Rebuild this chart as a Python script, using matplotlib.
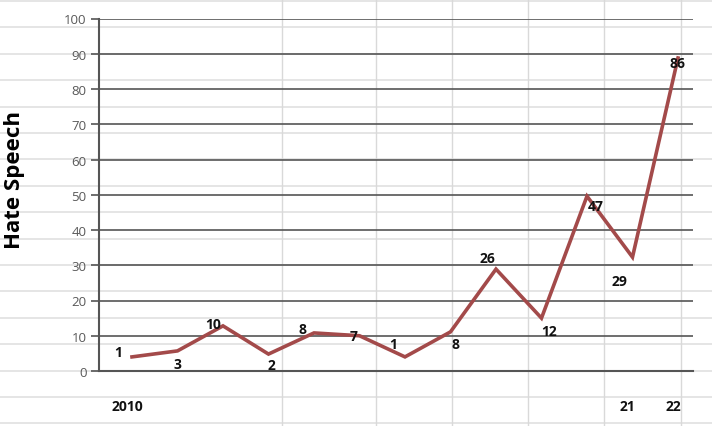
import matplotlib
matplotlib.use("Agg")
import matplotlib.pyplot as plt
from matplotlib.lines import Line2D
import matplotlib.transforms as mtransforms

plt.rcParams['font.family'] = ['Open Sans', 'DejaVu Sans']

# ---- data ----
categories = ["2010", "", "", "", "", "", "", "", "", "", "", "21", "22"]
values = [4.0, 5.7, 12.8, 4.8, 10.8, 10.0, 4.0, 11.1, 28.9, 15.0, 49.6, 32.3, 88.8]
point_labels = ["1", "3", "10", "2", "8", "7", "1", "8", "26", "12", "47", "29", "86"]
y_ticks = [0, 10, 20, 30, 40, 50, 60, 70, 80, 90, 100]
y_title = "Hate Speech"

# label offsets in pixels (dx, dy)
label_offsets = [(-14, 5), (0, -13), (-10, 2), (3, -11), (-11, 4), (-6, 0), (-12, 13),
                 (5, -12), (-9, 11), (8, -13), (9, -10), (-13, -24), (0, -5)]

W, H = 712, 427
fig = plt.figure(figsize=(W / 100, H / 100), dpi=100)
fig.patch.set_facecolor("white")

def fx(px):
    return px / W

def fy(py):
    return 1 - py / H

# spreadsheet background grid
for k in range(17):
    yy = 2 + 26.4 * k
    fig.add_artist(Line2D([0, 1], [fy(yy), fy(yy)], color="#e3e3e3", lw=1.3, zorder=0))
for xx in [282, 376, 452, 528, 604, 681]:
    fig.add_artist(Line2D([fx(xx), fx(xx)], [0, 1], color="#d9d9d9", lw=1.0, zorder=0))

left, right, top, bottom = 99, 693, 19.5, 372
ax = fig.add_axes([left / W, (H - bottom) / H, (right - left) / W, (bottom - top) / H])
ax.set_facecolor("none")

x = list(range(len(values)))
ax.plot(x, values, color="#a34a4a", lw=2.6, solid_joinstyle="miter", zorder=3)

ax.set_xlim(-0.725, 12.33)
ax.set_ylim(0, 100)
ax.set_yticks(y_ticks)
ax.set_yticklabels([str(t) for t in y_ticks], color="#595959", fontsize=9.5)
ax.yaxis.grid(True, color="#555555", lw=1.2)
ax.set_axisbelow(True)
ax.tick_params(axis="y", length=6, width=1.2, color="#555555", pad=3)

ax.set_xticks(x)
ax.set_xticklabels(categories, fontsize=10, fontweight="bold", color="#111111")
ax.tick_params(axis="x", length=0, pad=20)
for lab in ax.get_xticklabels():
    lab.set_transform(lab.get_transform() + mtransforms.ScaledTranslation(-5 / 100, 0, fig.dpi_scale_trans))

for s in ["top", "right"]:
    ax.spines[s].set_visible(False)
ax.spines["left"].set_color("#555555")
ax.spines["left"].set_linewidth(1.5)
ax.spines["bottom"].set_color("#555555")
ax.spines["bottom"].set_linewidth(1.5)

for xi, v, lab, (dx, dy) in zip(x, values, point_labels, label_offsets):
    ax.annotate(lab, (xi, v), xytext=(dx, dy), textcoords="offset pixels",
                ha="center", va="center", fontsize=10, fontweight="bold",
                color="#111111", zorder=4)

fig.text(fx(15), fy(180), y_title, rotation=90, ha="center", va="center",
         fontsize=16, fontweight="bold", color="black")

fig.savefig("out.png", dpi=100)
